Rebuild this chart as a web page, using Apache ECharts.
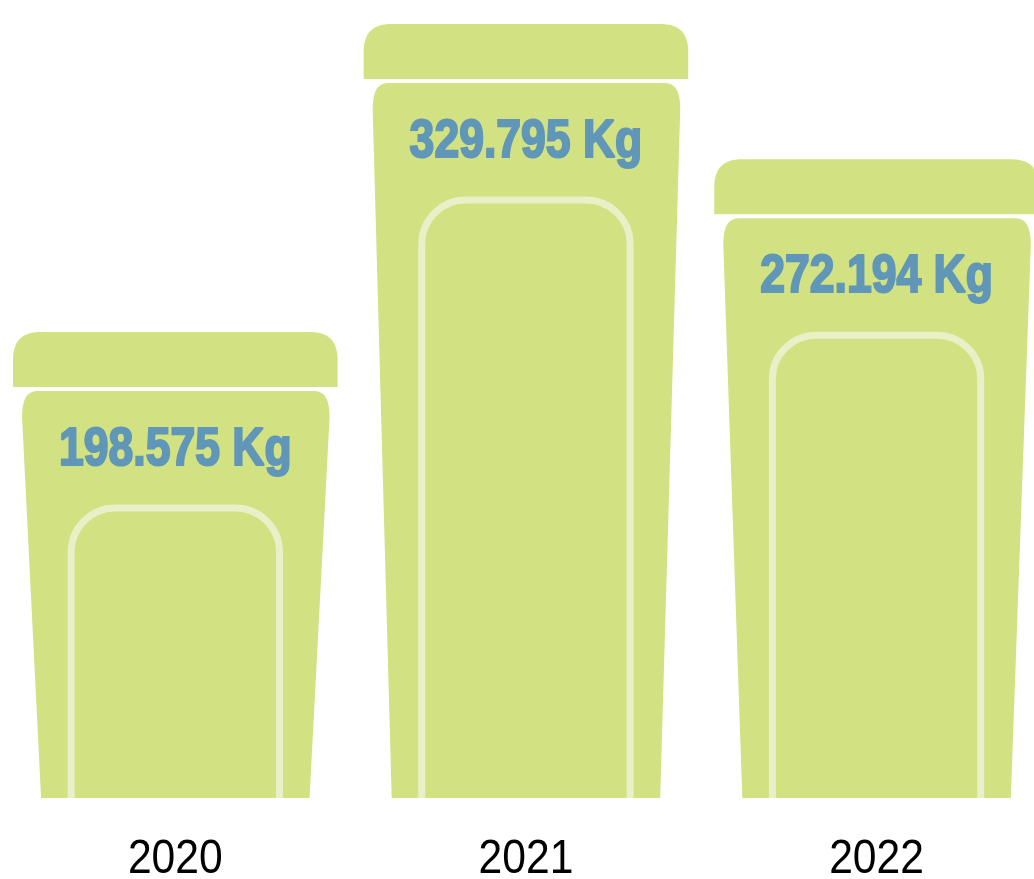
<!DOCTYPE html>
<html>
<head>
<meta charset="utf-8">
<script src="https://cdn.jsdelivr.net/npm/echarts@6/dist/echarts.min.js"></script>
<style>
html,body{margin:0;padding:0;background:#fff;}
#chart{width:1034px;height:879px;}
</style>
</head>
<body>
<div id="chart"></div>
<script>
const years = ['2020', '2021', '2022'];
const weights = [198.575, 329.795, 272.194];
const valueLabels = ['198.575 Kg', '329.795 Kg', '272.194 Kg'];

const GREEN = '#d2e181';
const DOOR = '#e9f0c7';
const BLUE = '#6097b8';
const FONT = '"Liberation Sans", Arial, sans-serif';

const chart = echarts.init(document.getElementById('chart'), null, {renderer: 'canvas'});

function renderBin(params, api) {
  const idx = api.value(0);
  const v = api.value(1);
  const top = api.coord([idx, v]);
  const base = api.coord([idx, 0]);
  const bw = api.size([1, 0])[0];
  const s = bw / 350;
  const cx = top[0];
  const y0 = top[1];
  const yb = base[1];
  const r = (n) => n * s;

  // lid
  const lidL = cx - r(162), lidR = cx + r(162);
  const lidB = y0 + 55;
  const lid = [
    'M', lidL, lidB,
    'L', lidL, y0 + 28,
    'C', lidL, y0 + 8, lidL + 10, y0, lidL + 28, y0,
    'L', lidR - 28, y0,
    'C', lidR - 10, y0, lidR, y0 + 8, lidR, y0 + 28,
    'L', lidR, lidB, 'Z'
  ].join(' ');

  // body
  const bt = y0 + 59;
  const tl = cx - r(153), tr = cx + r(154);
  const bl = cx - r(134), br = cx + r(134);
  const body = [
    'M', bl, yb,
    'L', tl, bt + 26,
    'Q', tl, bt, tl + 15, bt,
    'L', tr - 15, bt,
    'Q', tr, bt, tr, bt + 26,
    'L', br, yb, 'Z'
  ].join(' ');

  // door outline
  const dt = bt + 117;
  const dl = cx - r(104), dr = cx + r(104);
  const rad = 44;
  const door = [
    'M', dl, yb,
    'L', dl, dt + rad,
    'C', dl, dt + rad * 0.45, dl + rad * 0.45, dt, dl + rad, dt,
    'L', dr - rad, dt,
    'C', dr - rad * 0.45, dt, dr, dt + rad * 0.45, dr, dt + rad,
    'L', dr, yb
  ].join(' ');

  return {
    type: 'group',
    children: [
      {type: 'path', shape: {pathData: lid}, style: {fill: GREEN}},
      {type: 'path', shape: {pathData: body}, style: {fill: GREEN}},
      {type: 'path', shape: {pathData: door}, style: {fill: null, stroke: DOOR, lineWidth: 7}},
      {type: 'text', x: cx, y: bt + 59, scaleX: 0.84, style: {
        text: valueLabels[params.dataIndex],
        x: 0, y: 0,
        fill: BLUE,
        stroke: BLUE,
        lineWidth: 2.2,
        font: 'bold 53px ' + FONT,
        align: 'center', verticalAlign: 'middle'
      }},
      {type: 'text', x: cx, y: yb + 61, scaleX: 0.87, style: {
        text: years[params.dataIndex],
        x: 0, y: 0,
        fill: '#000',
        font: '49px ' + FONT,
        align: 'center', verticalAlign: 'middle'
      }}
    ]
  };
}

chart.setOption({
  animation: false,
  backgroundColor: '#fff',
  grid: {left: 0, right: 0, top: 0, bottom: 81, containLabel: false},
  xAxis: {
    type: 'value',
    min: -0.5,
    max: 2.449,
    show: false
  },
  yAxis: {
    type: 'value',
    min: 0,
    max: 340,
    show: false
  },
  series: [{
    type: 'custom',
    renderItem: renderBin,
    data: years.map((y, i) => [i, weights[i]]),
    encode: {x: 0, y: 1},
    clip: false
  }]
});
</script>
</body>
</html>
